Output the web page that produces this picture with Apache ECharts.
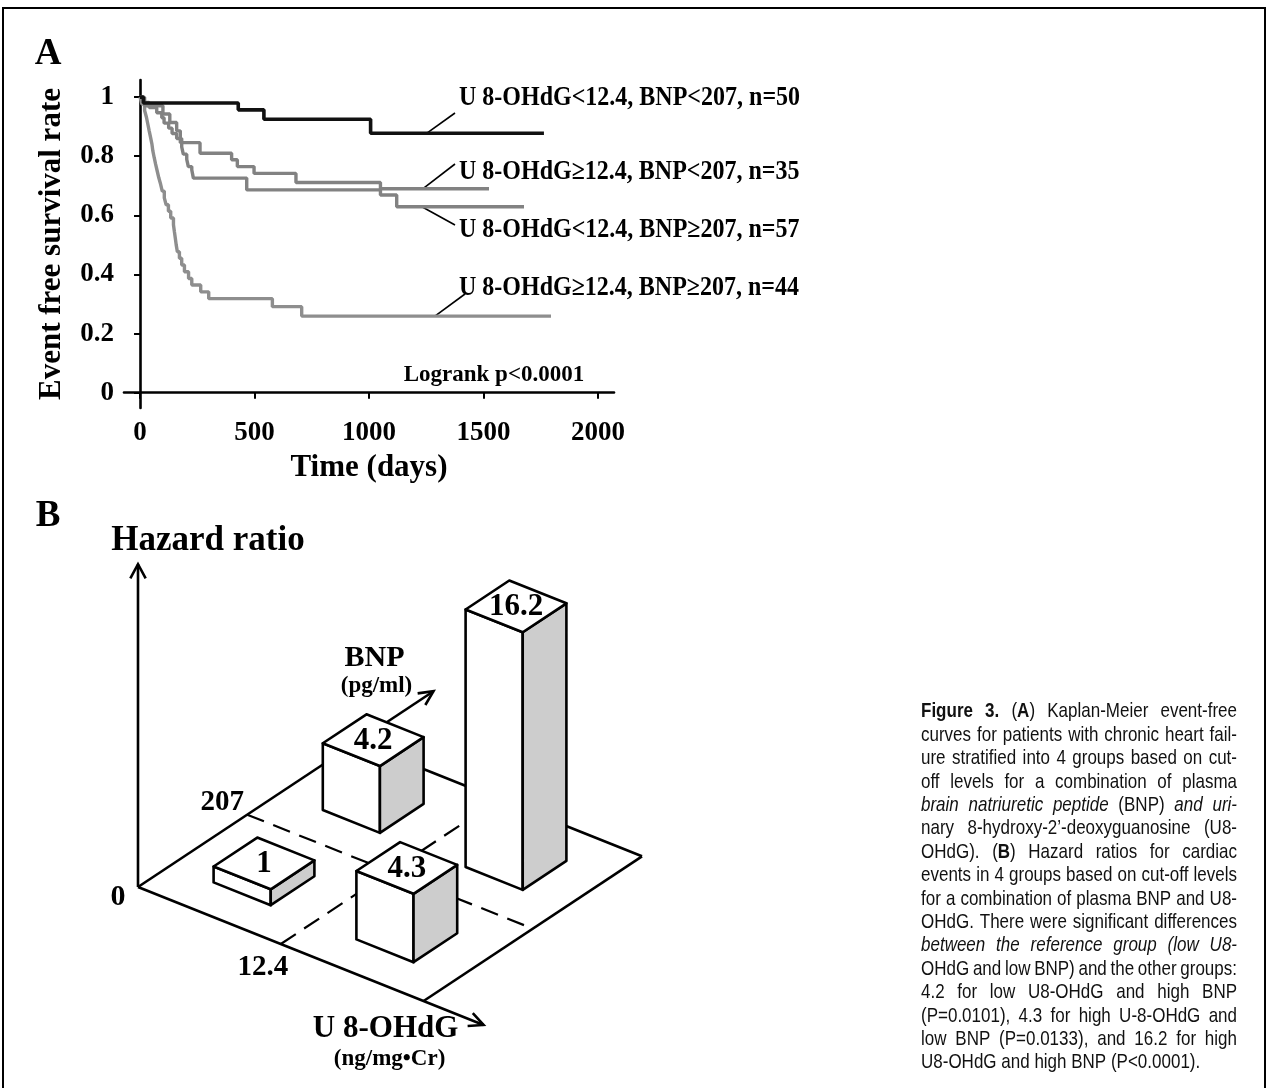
<!DOCTYPE html>
<html>
<head>
<meta charset="utf-8">
<script src="https://cdn.jsdelivr.net/npm/echarts@6/dist/echarts.min.js"></script>
<style>
html,body{margin:0;padding:0;background:#fff;}
#c{width:1268px;height:1088px;}
</style>
</head>
<body>
<div id="c"></div>
<script>
// ================= DATA =================
// Panel A: Kaplan-Meier curves, [time (days), event-free survival]
const timeTicks = [0, 500, 1000, 1500, 2000];
const survTicks = [0, 0.2, 0.4, 0.6, 0.8, 1];
const survLowU8LowBNP = [[0,1],[15,0.98],[429,0.957],[541,0.925],[1007,0.878],[1764,0.878]];
const survHighU8LowBNP = [[0,1],[20,0.971],[100,0.943],[130,0.914],[160,0.886],[176,0.846],[262,0.81],[400,0.788],[425,0.765],[498,0.742],[681,0.711],[1050,0.69],[1524,0.69]];
const survLowU8HighBNP = [[0,1],[12,0.982],[40,0.965],[73,0.947],[95,0.93],[105,0.912],[125,0.895],[140,0.877],[160,0.86],[182,0.832],[189,0.807],[204,0.789],[211,0.765],[226,0.754],[233,0.726],[466,0.686],[1050,0.669],[1121,0.629],[1677,0.629]];
const survHighU8HighBNP = [[0,1],[8,0.977],[20,0.955],[28,0.932],[34,0.909],[40,0.886],[46,0.864],[52,0.841],[56,0.818],[62,0.795],[68,0.773],[75,0.75],[82,0.727],[90,0.705],[97,0.682],[106,0.659],[114,0.636],[124,0.614],[134,0.591],[146,0.568],[150,0.545],[154,0.523],[158,0.5],[163,0.477],[172,0.455],[182,0.432],[194,0.409],[212,0.386],[226,0.364],[265,0.341],[300,0.318],[578,0.291],[706,0.259],[1795,0.259]];
const groupLabels = [
  'U 8-OHdG<12.4, BNP<207, n=50',
  'U 8-OHdG\u226512.4, BNP<207, n=35',
  'U 8-OHdG<12.4, BNP\u2265207, n=57',
  'U 8-OHdG\u226512.4, BNP\u2265207, n=44'
];
const logrankText = 'Logrank p<0.0001';

// Panel B: hazard ratios by group (0 = low, 1 = high)
const hazardU8Level  = [0, 1, 0, 1];
const hazardBNPLevel = [0, 0, 1, 1];
const hazardRatios   = [1, 4.3, 4.2, 16.2];
const u8Cutoff = '12.4';
const bnpCutoff = '207';

// Caption (* toggles bold, _ toggles italic)
const captionLines = [
  '*Figure 3.* (*A*) Kaplan-Meier event-free',
  'curves for patients with chronic heart fail-',
  'ure stratified into 4 groups based on cut-',
  'off levels for a combination of plasma',
  '_brain natriuretic peptide_ (BNP) _and uri-_',
  'nary 8-hydroxy-2\u2019-deoxyguanosine (U8-',
  'OHdG). (*B*) Hazard ratios for cardiac',
  'events in 4 groups based on cut-off levels',
  'for a combination of plasma BNP and U8-',
  'OHdG. There were significant differences',
  '_between the reference group (low U8-_',
  'OHdG and low BNP) and the other groups:',
  '4.2 for low U8-OHdG and high BNP',
  '(P=0.0101), 4.3 for high U-8-OHdG and',
  'low BNP (P=0.0133), and 16.2 for high',
  'U8-OHdG and high BNP (P<0.0001).'
];

// ================= LAYOUT / STYLE =================
const SERIF = '"Liberation Serif", "Times New Roman", serif';
const SANS = '"Liberation Sans", Arial, sans-serif';
const U = [285.6, 114];      // floor vector along U 8-OHdG axis (px)
const B = [218.4, -144.7];   // floor vector along BNP axis (px)
const cellCenter = [0.25, 0.75];
const half = 0.1;
const cutFrac = 0.5;
const hazardAxisTop = 20.3;
const uArrowLen = 1.21, bArrowLen = 1.353;

const chart = echarts.init(document.getElementById('c'), null, {renderer: 'canvas', width: 1268, height: 1088});

function arrowHead(tip, dir, len, ang) {
  const n = Math.hypot(dir[0], dir[1]);
  const bx = -dir[0] / n, by = -dir[1] / n;
  const rot = (a) => [tip[0] + len * (bx * Math.cos(a) - by * Math.sin(a)), tip[1] + len * (bx * Math.sin(a) + by * Math.cos(a))];
  return {type: 'polyline', shape: {points: [rot(ang), tip, rot(-ang)]}, style: {stroke: '#000', lineWidth: 2.6, fill: 'none', lineJoin: 'miter'}};
}
function txt(s, x, y, size, align, extra) {
  return Object.assign({type: 'text', style: {text: s, x: x, y: y, font: 'bold ' + size + 'px ' + SERIF, fill: '#000',
    textAlign: align || 'center', textVerticalAlign: 'middle', align: align || 'center', verticalAlign: 'middle'}}, extra || {});
}

function floorItem(params, api) {
  const o = api.coord([0, 0]);
  const P = (p, q) => [o[0] + p * U[0] + q * B[0], o[1] + p * U[1] + q * B[1]];
  const hTip = api.size([0, hazardAxisTop])[1];
  const S = {stroke: '#000', lineWidth: 2.6, fill: 'none', lineCap: 'butt'};
  const line = (a, b, extra) => ({type: 'line', shape: {x1: a[0], y1: a[1], x2: b[0], y2: b[1]}, style: Object.assign({}, S, extra || {})});
  const uTip = P(uArrowLen, 0), bTip = P(0, bArrowLen), hT = [o[0], o[1] - hTip];
  const uCut = P(cutFrac, 0), bCut = P(0, cutFrac);
  return {type: 'group', children: [
    line(uCut, P(cutFrac, 1), {lineDash: [18, 10], lineWidth: 2.2}),
    line(bCut, P(1, cutFrac), {lineDash: [18, 10], lineWidth: 2.2}),
    line(o, uTip), line(P(1, 0), P(1, 1)), line(P(1, 1), P(0, 1)), line(o, bTip), line(o, hT),
    arrowHead(uTip, U, 16, 0.45), arrowHead(bTip, B, 16, 0.45), arrowHead(hT, [0, -1], 16, 0.5),
    txt('0', o[0] - 20, o[1] + 10, 30),
    txt(bnpCutoff, bCut[0] - 25, bCut[1] - 12, 29),
    txt(u8Cutoff, uCut[0] - 18, uCut[1] + 24, 29),
    txt('Hazard ratio', hT[0] + 70, hT[1] - 23, 35),
    txt('BNP', bTip[0] - 59, bTip[1] - 33, 30),
    txt('(pg/ml)', bTip[0] - 57, bTip[1] - 5, 23),
    txt('U 8-OHdG', uTip[0] - 98, uTip[1] + 4, 31),
    txt('(ng/mg\u2022Cr)', uTip[0] - 94, uTip[1] + 34, 23)
  ]};
}

function barItem(params, api) {
  const ui = api.value(0), bi = api.value(1), hr = api.value(2);
  const o = api.coord([0, 0]);
  const h = api.size([0, hr])[1];
  const pc = cellCenter[ui], qc = cellCenter[bi];
  const P = (p, q, z) => [o[0] + p * U[0] + q * B[0], o[1] + p * U[1] + q * B[1] - z];
  const p0 = pc - half, p1 = pc + half, q0 = qc - half, q1 = qc + half;
  const st = (fill) => ({fill: fill, stroke: '#000', lineWidth: 2.6, lineJoin: 'round'});
  const tc = P(pc, qc, h);
  return {type: 'group', children: [
    {type: 'polygon', shape: {points: [P(p0, q0, 0), P(p1, q0, 0), P(p1, q0, h), P(p0, q0, h)]}, style: st('#ffffff')},
    {type: 'polygon', shape: {points: [P(p1, q0, 0), P(p1, q1, 0), P(p1, q1, h), P(p1, q0, h)]}, style: st('#cdcdcd')},
    {type: 'polygon', shape: {points: [P(p0, q0, h), P(p1, q0, h), P(p1, q1, h), P(p0, q1, h)]}, style: st('#ffffff')},
    txt(String(hr), tc[0], tc[1] + 1, 31)
  ]};
}

// bars sorted back-to-front
const barData = hazardRatios.map((v, i) => [hazardU8Level[i], hazardBNPLevel[i], v]);
const depth = (d) => cellCenter[d[0]] * U[1] + cellCenter[d[1]] * B[1];
barData.sort((a, b) => depth(a) - depth(b));

const axisFont = {fontFamily: SERIF, fontWeight: 'bold', color: '#000'};
const plain = (v) => String(v);

const option = {
  backgroundColor: '#fff',
  animation: false,
  textStyle: {fontFamily: SERIF},
  grid: [
    {left: 124, top: 80, width: 490, height: 328},
    {left: 138, top: 569, width: 500, height: 318}
  ],
  xAxis: [
    {gridIndex: 0, type: 'value', min: -70, max: 2070,
     axisLine: {lineStyle: {color: '#000', width: 2.6}},
     axisTick: {customValues: timeTicks, length: 6, lineStyle: {color: '#000', width: 2}},
     axisLabel: Object.assign({customValues: timeTicks, fontSize: 27, margin: 12, formatter: plain}, axisFont),
     splitLine: {show: false},
     name: 'Time (days)', nameLocation: 'middle', nameGap: 44,
     nameTextStyle: Object.assign({fontSize: 31}, axisFont)},
    {gridIndex: 1, type: 'value', min: 0, max: 1, show: false}
  ],
  yAxis: [
    {gridIndex: 0, type: 'value', min: -0.052, max: 1.058,
     axisLine: {show: true, lineStyle: {color: '#000', width: 2.6}},
     axisTick: {show: true, customValues: survTicks, length: 6, lineStyle: {color: '#000', width: 2}},
     axisLabel: Object.assign({customValues: survTicks, fontSize: 27, margin: 10, formatter: plain}, axisFont),
     splitLine: {show: false},
     name: 'Event free survival rate', nameLocation: 'middle', nameRotate: 90, nameGap: 57,
     nameTextStyle: Object.assign({fontSize: 31}, axisFont)},
    {gridIndex: 1, type: 'value', min: 0, max: 20, show: false}
  ],
  series: [
    {name: groupLabels[3], type: 'line', step: 'end', data: survHighU8HighBNP, symbol: 'none', lineStyle: {color: '#8e8e8e', width: 3.4}, z: 2},
    {name: groupLabels[2], type: 'line', step: 'end', data: survLowU8HighBNP, symbol: 'none', lineStyle: {color: '#828282', width: 3.4}, z: 3},
    {name: groupLabels[1], type: 'line', step: 'end', data: survHighU8LowBNP, symbol: 'none', lineStyle: {color: '#828282', width: 3.4}, z: 4},
    {name: groupLabels[0], type: 'line', step: 'end', data: survLowU8LowBNP, symbol: 'none', lineStyle: {color: '#111', width: 3.6}, z: 5},
    {name: 'floor', type: 'custom', coordinateSystem: 'cartesian2d', xAxisIndex: 1, yAxisIndex: 1, clip: false,
     renderItem: floorItem, data: [[0, 0]], z: 1, silent: true},
    {name: 'Hazard ratio', type: 'custom', coordinateSystem: 'cartesian2d', xAxisIndex: 1, yAxisIndex: 1, clip: false,
     renderItem: barItem, data: barData, z: 2, silent: true}
  ]
};
chart.setOption(option);

// ---------- annotations (graphic) ----------
const g = [];
g.push({type: 'rect', shape: {x: 3, y: 8, width: 1262, height: 1100}, style: {fill: 'none', stroke: '#000', lineWidth: 2}, z: 0});
g.push(txt('A', 48, 54, 37));
g.push(txt('B', 48, 516, 37));

// KM labels with leader lines anchored to curve values
const leaderAnchors = [[1253, 0.878], [1236, 0.69], [1231, 0.629], [1288, 0.259]];
const leaderEnds = [[455, 113], [455, 164], [455, 225], [465, 294]];
const labelY = [98, 172, 230, 288];
leaderAnchors.forEach((a, i) => {
  const p = chart.convertToPixel({gridIndex: 0}, a);
  g.push({type: 'line', shape: {x1: p[0], y1: p[1], x2: leaderEnds[i][0], y2: leaderEnds[i][1]}, style: {stroke: '#000', lineWidth: 1.6}});
  g.push({type: 'text', x: 459, y: labelY[i], scaleY: 1.12, style: {text: groupLabels[i], x: 0, y: 0, font: 'bold 24px ' + SERIF, fill: '#000',
    textAlign: 'left', textVerticalAlign: 'middle', align: 'left', verticalAlign: 'middle'}});
});
g.push(txt(logrankText, 494, 375, 23));

// caption, justified
const mctx = document.createElement('canvas').getContext('2d');
const capFont = (b, i) => (i ? 'italic ' : '') + (b ? 'bold ' : '') + '17px ' + SANS;
function parseLine(s) {
  let b = false, it = false, run = null;
  const words = []; let cur = {runs: []};
  for (const ch of s) {
    if (ch === '*') { b = !b; run = null; continue; }
    if (ch === '_') { it = !it; run = null; continue; }
    if (ch === ' ') { if (cur.runs.length) { words.push(cur); cur = {runs: []}; } run = null; continue; }
    if (!run) { run = {t: '', b: b, i: it}; cur.runs.push(run); }
    run.t += ch;
  }
  if (cur.runs.length) words.push(cur);
  words.forEach(w => {
    w.runs.forEach(r => { mctx.font = capFont(r.b, r.i); r.w = mctx.measureText(r.t).width; });
    w.w = w.runs.reduce((a, r) => a + r.w, 0);
  });
  return words;
}
const capX = 921, capW = 316, capY0 = 712, capLH = 23.4;
mctx.font = capFont(false, false);
const spaceW = mctx.measureText(' ').width;
captionLines.forEach((ln, li) => {
  const words = parseLine(ln);
  const total = words.reduce((a, w) => a + w.w, 0);
  const last = li === captionLines.length - 1;
  const gap = (!last && words.length > 1) ? (capW - total) / (words.length - 1) : spaceW;
  let x = capX;
  const y = capY0 + li * capLH;
  words.forEach(w => {
    let rx = x;
    w.runs.forEach(r => {
      g.push({type: 'text', x: rx, y: y, scaleY: 1.15, style: {text: r.t, x: 0, y: 0, font: capFont(r.b, r.i), fill: '#111',
        textAlign: 'left', textVerticalAlign: 'middle', align: 'left', verticalAlign: 'middle'}});
      rx += r.w;
    });
    x += w.w + gap;
  });
});

chart.setOption({graphic: {elements: g}});
</script>
</body>
</html>
